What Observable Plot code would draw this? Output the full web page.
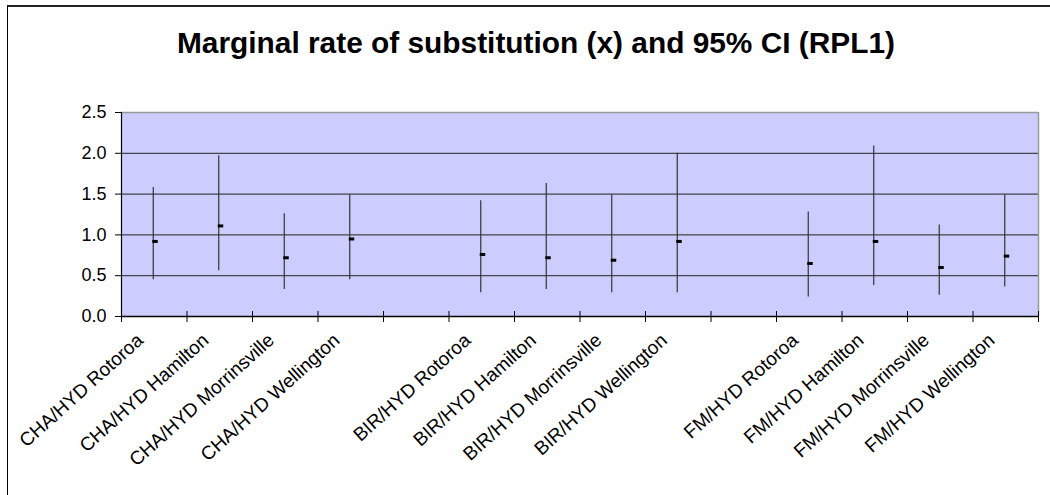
<!DOCTYPE html>
<html><head><meta charset="utf-8">
<script src="https://cdn.jsdelivr.net/npm/d3@7"></script>
<script src="https://cdn.jsdelivr.net/npm/@observablehq/plot@0.6"></script>
<style>
html,body{margin:0;padding:0;background:#fff;}
#wrap{position:relative;width:1050px;height:495px;overflow:hidden;font-family:"Liberation Sans",Arial,sans-serif;}
#border{position:absolute;left:7px;top:5px;width:2000px;height:2000px;border-left:1px solid #000;border-top:2px solid #222;pointer-events:none;z-index:3}
#title{position:absolute;left:0;top:0}
#chart{position:absolute;left:0;top:90px}
</style></head><body>
<div id="wrap"><div id="border"></div>
<svg id="title" width="1050" height="90"><text x="177" y="53" textLength="718" lengthAdjust="spacingAndGlyphs" font-family="Liberation Sans, Arial, sans-serif" font-weight="bold" font-size="29" fill="#000">Marginal rate of substitution (x) and 95% CI (RPL1)</text></svg>
<div id="chart"></div></div>
<script>
const categories = ["CHA/HYD Rotoroa","CHA/HYD Hamilton","CHA/HYD Morrinsville","CHA/HYD Wellington"," ",
  "BIR/HYD Rotoroa","BIR/HYD Hamilton","BIR/HYD Morrinsville","BIR/HYD Wellington","  ",
  "FM/HYD Rotoroa","FM/HYD Hamilton","FM/HYD Morrinsville","FM/HYD Wellington"];
const mrs   = [0.92, 1.11, 0.72, 0.95, null, 0.76, 0.72, 0.69, 0.92, null, 0.65, 0.92, 0.60, 0.74];
const lower = [0.45, 0.56, 0.33, 0.45, null, 0.29, 0.33, 0.29, 0.29, null, 0.24, 0.38, 0.26, 0.36];
const upper = [1.58, 1.97, 1.26, 1.49, null, 1.42, 1.63, 1.49, 2.00, null, 1.28, 2.09, 1.12, 1.49];
const yTicks = [0, 0.5, 1.0, 1.5, 2.0, 2.5];

const rows = categories.map((c, i) => ({c, m: mrs[i], lo: lower[i], hi: upper[i]})).filter(d => d.m != null);
const W = 1050, H = 405, ml = 121, mr = 12, mt = 22, mb = 179;
const bw = (W - ml - mr) / categories.length;
const ppu = (H - mt - mb) / 2.5;
const last = categories[categories.length - 1];

const plot = Plot.plot({
  width: W, height: H, marginLeft: ml, marginRight: mr, marginTop: mt, marginBottom: mb,
  style: {background: "transparent", fontFamily: "Liberation Sans, Arial, sans-serif", color: "#000", overflow: "visible"},
  x: {domain: categories, padding: 0, round: false, label: null},
  y: {domain: [0, 2.5], label: null},
  marks: [
    Plot.frame({fill: "#ccccff", stroke: null}),
    Plot.ruleY(yTicks.slice(1, -1), {stroke: "#222", strokeWidth: 1}),
    Plot.ruleY([2.5], {stroke: "#999", strokeWidth: 1.5}),
    Plot.ruleX([last], {dx: bw / 2, stroke: "#999", strokeWidth: 1.5}),
    Plot.ruleX([categories[0]], {dx: -bw / 2, stroke: "#000", strokeWidth: 1.2}),
    Plot.ruleY([0], {stroke: "#000", strokeWidth: 1.5}),
    Plot.ruleX(categories, {x: d => d, dx: -bw / 2, y1: -6 / ppu, y2: 5 / ppu, stroke: "#000"}),
    Plot.ruleX([last], {dx: bw / 2, y1: -6 / ppu, y2: 5 / ppu, stroke: "#000"}),
    Plot.ruleX(rows, {x: "c", y1: "lo", y2: "hi", stroke: "#333", strokeWidth: 1.2, dx: -1}),
    Plot.tickY(rows, {x: "c", y: "m", stroke: "#000", strokeWidth: 3, insetLeft: bw / 2 - 1.5, insetRight: bw / 2 - 4}),
    Plot.axisY({ticks: yTicks, tickFormat: d3.format(".1f"), tickSize: 6, tickPadding: 9, fontSize: 18, label: null}),
    Plot.axisX({tickSize: 0, tickRotate: -42, tickPadding: 21, dx: -14, fontSize: 19, label: null})
  ]
});
document.getElementById("chart").appendChild(plot);
</script>
</body></html>
